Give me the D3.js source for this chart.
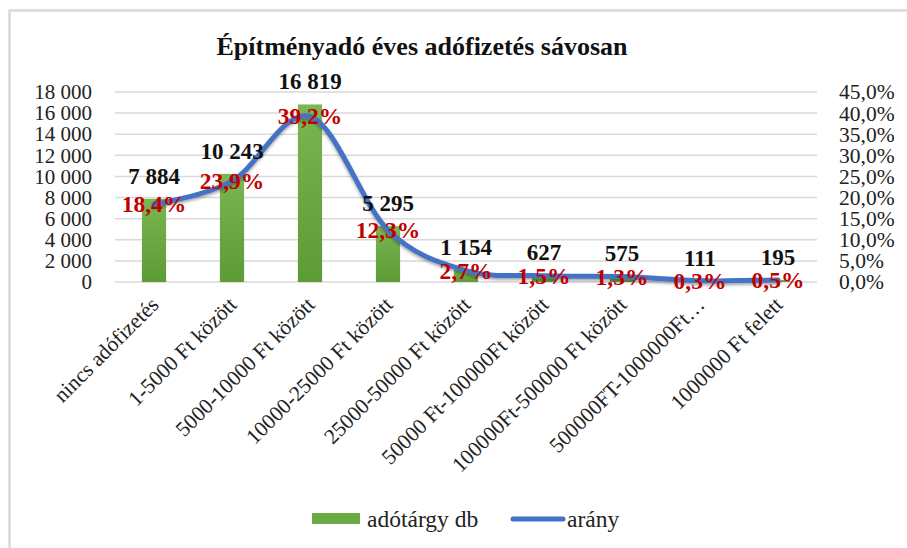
<!DOCTYPE html>
<html>
<head>
<meta charset="utf-8">
<script src="https://cdn.jsdelivr.net/npm/d3@7"></script>
<style>
  body { margin: 0; background: #fff; }
  svg { display: block; }
</style>
</head>
<body>
<div id="chart"></div>
<script>
// Adatok
const categories = [
    'nincs adófizetés', '1-5000 Ft között', '5000-10000 Ft között', '10000-25000 Ft között',
    '25000-50000 Ft között', '50000 Ft-100000Ft között', '100000Ft-500000 Ft között',
    '500000FT-1000000Ft…', '1000000 Ft felett'
];
const counts = [7884, 10243, 16819, 5295, 1154, 627, 575, 111, 195];
const shares = [18.4, 23.9, 39.2, 12.3, 2.7, 1.5, 1.3, 0.3, 0.5];
const leftTicks = [0, 2000, 4000, 6000, 8000, 10000, 12000, 14000, 16000, 18000];
const rightTicks = [0, 5, 10, 15, 20, 25, 30, 35, 40, 45];

const W = 907, H = 548;
const font = '"Liberation Serif", "DejaVu Serif", serif';
const plot = { left: 115, right: 817, top: 92, bottom: 282 };

const svg = d3.select('#chart').append('svg')
    .attr('width', W).attr('height', H)
    .style('font-family', font);

const defs = svg.append('defs');
const grad = defs.append('linearGradient').attr('id', 'barGrad')
    .attr('x1', 0).attr('y1', 0).attr('x2', 0).attr('y2', 1);
grad.append('stop').attr('offset', '0%').attr('stop-color', '#7ab651');
grad.append('stop').attr('offset', '100%').attr('stop-color', '#5d9b36');

const shadow = defs.append('filter').attr('id', 'lineShadow')
    .attr('x', '-5%').attr('y', '-20%').attr('width', '110%').attr('height', '140%');
shadow.append('feDropShadow').attr('dx', 0).attr('dy', 2).attr('stdDeviation', 1.5)
    .attr('flood-color', '#000').attr('flood-opacity', 0.35);

// Keret (csak fent és bal oldalt látszik)
svg.append('path')
    .attr('d', `M9.5,${H} V10.5 H${W}`)
    .attr('fill', 'none').attr('stroke', '#d9d9d9').attr('stroke-width', 2.5);

// Cím
svg.append('text')
    .attr('x', 422).attr('y', 55)
    .attr('text-anchor', 'middle')
    .attr('font-size', '26px').attr('font-weight', 'bold').attr('fill', '#111')
    .text('Építményadó éves adófizetés sávosan');

// Skálák
const x = d3.scaleBand().domain(categories).range([plot.left, plot.right]).paddingInner(0.69).paddingOuter(0.345);
const y = d3.scaleLinear().domain([0, 18000]).range([plot.bottom, plot.top]);
const y2 = d3.scaleLinear().domain([0, 45]).range([plot.bottom, plot.top]);
const cx = d => x(d) + x.bandwidth() / 2;

const fmtNum = v => d3.format(',')(v).replace(/,/g, ' ');
const fmtPct = v => d3.format('.1f')(v).replace('.', ',') + '%';

// Rácsvonalak
svg.append('g').selectAll('line')
    .data(leftTicks)
    .join('line')
    .attr('x1', plot.left).attr('x2', plot.right)
    .attr('y1', d => y(d)).attr('y2', d => y(d))
    .attr('stroke', '#d9d9d9').attr('stroke-width', 1.5);

// Bal tengely
const leftAxis = svg.append('g')
    .attr('transform', `translate(${plot.left - 23},0)`)
    .call(d3.axisLeft(y).tickValues(leftTicks).tickFormat(fmtNum).tickSize(0).tickPadding(0));
leftAxis.select('.domain').remove();
leftAxis.selectAll('text')
    .attr('font-family', font).attr('font-size', '21px').attr('fill', '#222');

// Jobb tengely
const rightAxis = svg.append('g')
    .attr('transform', `translate(${plot.right + 22},0)`)
    .call(d3.axisRight(y2).tickValues(rightTicks).tickFormat(fmtPct).tickSize(0).tickPadding(0));
rightAxis.select('.domain').remove();
rightAxis.selectAll('text')
    .attr('font-family', font).attr('font-size', '21.5px').attr('fill', '#222');

// Oszlopok
svg.append('g').selectAll('rect')
    .data(categories)
    .join('rect')
    .attr('x', d => x(d))
    .attr('width', x.bandwidth())
    .attr('y', (d, i) => y(counts[i]))
    .attr('height', (d, i) => plot.bottom - y(counts[i]))
    .attr('fill', 'url(#barGrad)');

// Vonal
const line = d3.line()
    .x(d => cx(d[0]))
    .y(d => y2(d[1]))
    .curve(d3.curveCardinal.tension(0));

svg.append('path')
    .datum(categories.map((c, i) => [c, shares[i]]))
    .attr('fill', 'none')
    .attr('stroke', '#4472c4')
    .attr('stroke-width', 5)
    .attr('stroke-linejoin', 'round')
    .attr('stroke-linecap', 'round')
    .attr('filter', 'url(#lineShadow)')
    .attr('d', line);

// Darabszám címkék
svg.append('g').selectAll('text')
    .data(categories)
    .join('text')
    .attr('x', d => cx(d))
    .attr('y', (d, i) => y(counts[i]) - 15)
    .attr('text-anchor', 'middle')
    .attr('font-size', '23px').attr('font-weight', 'bold').attr('fill', '#111')
    .text((d, i) => fmtNum(counts[i]));

// Arány címkék
svg.append('g').selectAll('text')
    .data(categories)
    .join('text')
    .attr('x', d => cx(d))
    .attr('y', (d, i) => y2(shares[i]) + 8)
    .attr('text-anchor', 'middle')
    .attr('font-size', '23.5px').attr('font-weight', 'bold').attr('fill', '#c00000')
    .text((d, i) => fmtPct(shares[i]));

// X tengely címkék
svg.append('g').selectAll('text')
    .data(categories)
    .join('text')
    .attr('transform', d => `translate(${cx(d) + 6},${plot.bottom + 24}) rotate(-45)`)
    .attr('text-anchor', 'end')
    .attr('font-size', '21.5px').attr('fill', '#222')
    .text(d => d);

// Jelmagyarázat
const legend = svg.append('g');
legend.append('rect')
    .attr('x', 312).attr('y', 513).attr('width', 48).attr('height', 11)
    .attr('fill', '#6aaa42');
legend.append('text')
    .attr('x', 367).attr('y', 527)
    .attr('font-size', '23.5px').attr('fill', '#222')
    .text('adótárgy db');
legend.append('line')
    .attr('x1', 513).attr('x2', 563).attr('y1', 519).attr('y2', 519)
    .attr('stroke', '#4472c4').attr('stroke-width', 5).attr('stroke-linecap', 'round');
legend.append('text')
    .attr('x', 567).attr('y', 527)
    .attr('font-size', '23.5px').attr('fill', '#222')
    .text('arány');
</script>
</body>
</html>
